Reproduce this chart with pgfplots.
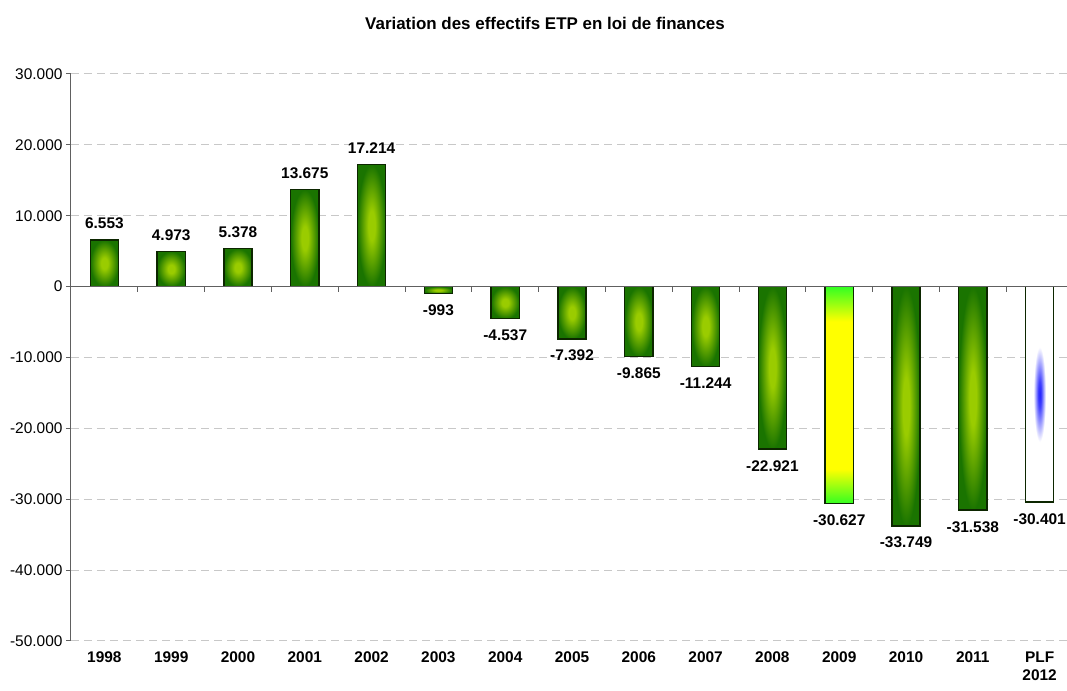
\documentclass[border=0pt]{standalone}
\usepackage{fontspec}
\setmainfont{Liberation Sans}
\usepackage{pgfplots}
\pgfplotsset{compat=1.18}

\definecolor{gdark}{HTML}{1A7400}
\definecolor{glight}{HTML}{9ACC00}
\definecolor{gedge}{HTML}{0C2600}
\definecolor{ggreen}{HTML}{33FF22}
\definecolor{gridgray}{HTML}{C8C8C8}
\definecolor{plfblue}{HTML}{2020FF}
\definecolor{axisgray}{HTML}{606060}

\pgfdeclareradialshading{greenbar}{\pgfpoint{0bp}{0bp}}{color(0bp)=(glight); color(6bp)=(glight); color(25bp)=(gdark); color(50bp)=(gdark)}
\pgfdeclareverticalshading{yellowbar}{100bp}{color(0bp)=(ggreen); color(25bp)=(ggreen); color(33bp)=(yellow); color(67bp)=(yellow); color(75bp)=(ggreen); color(100bp)=(ggreen)}
\pgfdeclareradialshading{plfbar}{\pgfpoint{0bp}{0bp}}{color(0bp)=(plfblue); color(3bp)=(plfblue!85); color(11bp)=(white); color(50bp)=(white)}

\newcommand\fs{\fontsize{15.5}{18}\selectfont}

\begin{document}
\begin{tikzpicture}[x=1bp,y=1bp]
\useasboundingbox (-71,-50) rectangle (996,641);
\begin{axis}[
  at={(0,0)}, anchor=south west,
  scale only axis, width=1002bp, height=567bp,
  xmin=-0.5, xmax=14.5, ymin=-50000, ymax=30000,
  axis lines*=left,
  axis line style={-},
  x axis line style={draw=none},
  y axis line style={axisgray, line width=1bp},
  xtick={0,...,14},
  xticklabels={1998,1999,2000,2001,2002,2003,2004,2005,2006,2007,2008,2009,2010,2011,{PLF\\2012}},
  xticklabel style={font=\bfseries\fs, align=center, yshift=-2bp},
  x tick style={draw=none},
  ytick={-50000,-40000,...,30000},
  y tick style={axisgray, line width=1bp},
  tick align=outside, major tick length=5bp,
  yticklabel style={font=\fs},
  scaled y ticks=false,
  /pgf/number format/1000 sep={.},
  /pgf/number format/assume math mode=true,
  ymajorgrids,
  major grid style={gridgray, line width=1bp, dash pattern=on 8bp off 5bp},
  clip=false,
  gbar/.style={ybar, bar width=0.42, bar shift=0pt, draw=none,
    shade, shading=greenbar,
    nodes near coords={\pgfmathprintnumber[1000 sep={.},assume math mode=true]{\pgfplotspointmeta}},
    every node near coord/.append style={font=\bfseries\fs, text=black, inner ysep=11bp}},
]
\addplot[gbar] coordinates {(0,6553)};
\addplot[gbar] coordinates {(1,4973)};
\addplot[gbar] coordinates {(2,5378)};
\addplot[gbar] coordinates {(3,13675)};
\addplot[gbar] coordinates {(4,17214)};
\addplot[gbar] coordinates {(5,-993)};
\addplot[gbar] coordinates {(6,-4537)};
\addplot[gbar] coordinates {(7,-7392)};
\addplot[gbar] coordinates {(8,-9865)};
\addplot[gbar] coordinates {(9,-11244)};
\addplot[gbar] coordinates {(10,-22921)};
\addplot[gbar, shading=yellowbar] coordinates {(11,-30627)};
\addplot[gbar] coordinates {(12,-33749)};
\addplot[gbar] coordinates {(13,-31538)};
\addplot[gbar, shading=plfbar] coordinates {(14,-30401)};
% outlines
\addplot[ybar, bar width=0.42, bar shift=0pt, draw=gedge, fill=none, line width=1.4bp] coordinates {
 (0,6553) (1,4973) (2,5378) (3,13675) (4,17214) (5,-993) (6,-4537) (7,-7392)
 (8,-9865) (9,-11244) (10,-22921) (11,-30627) (12,-33749) (13,-31538) (14,-30401)};
\draw[axisgray, line width=1bp] (axis cs:-0.5,0) -- (axis cs:14.5,0);
\pgfplotsinvokeforeach{0.5,1.5,...,13.5}{\draw[axisgray, line width=1bp] (axis cs:#1,0) -- ([yshift=-5bp]axis cs:#1,0);}
\end{axis}
\node[font=\bfseries\fontsize{17}{20}\selectfont] at (474,618) {Variation des effectifs ETP en loi de finances};
\end{tikzpicture}
\end{document}
